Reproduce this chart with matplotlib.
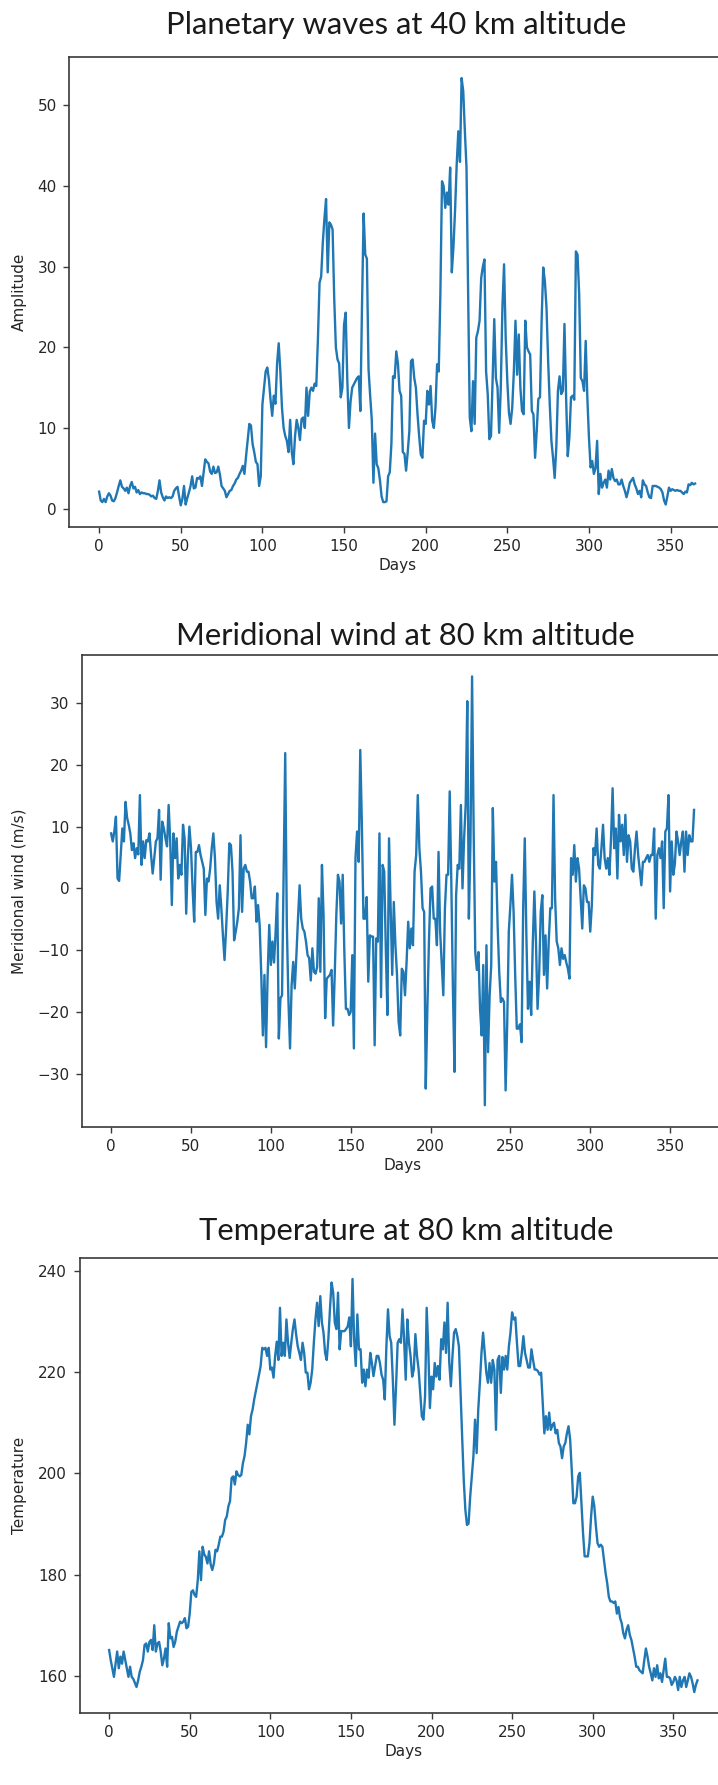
import matplotlib
matplotlib.use("Agg")
import matplotlib.pyplot as plt
import numpy as np

# Daily series, day 0 .. 365
days = np.arange(366)

amplitude_40km = [
    2.1, 1.0, 0.8, 1.2, 0.8, 1.5, 1.9, 1.6, 1.0, 0.9,
    1.3, 2.0, 2.8, 3.5, 2.7, 2.5, 2.2, 2.6, 1.9, 2.8,
    3.3, 2.5, 2.7, 2.0, 2.3, 1.8, 2.0, 1.9, 1.9, 1.8,
    1.8, 1.7, 1.5, 1.6, 1.3, 1.2, 2.2, 3.5, 2.0, 1.4,
    1.0, 1.5, 1.3, 1.4, 1.3, 1.5, 2.2, 2.5, 2.7, 1.5,
    0.4, 1.2, 2.8, 0.5, 1.3, 2.0, 2.8, 4.0, 2.5, 2.6,
    3.8, 3.7, 4.0, 2.8, 4.5, 6.1, 5.8, 5.6, 4.6, 4.3,
    5.2, 4.4, 4.5, 5.2, 4.2, 2.8, 2.5, 2.2, 1.4, 1.8,
    2.2, 2.3, 2.8, 3.1, 3.6, 3.8, 4.3, 4.7, 5.3, 4.3,
    6.5, 8.5, 10.5, 10.3, 8.0, 7.0, 5.8, 5.5, 2.8, 4.0,
    12.9, 15.0, 17.0, 17.5, 16.0, 13.5, 11.5, 14.0, 13.0, 18.0,
    20.5, 17.0, 12.5, 10.0, 9.0, 8.4, 7.0, 11.0, 7.0, 5.5,
    9.0, 11.0, 10.0, 8.5, 11.1, 11.3, 10.0, 15.0, 11.5, 14.5,
    15.0, 14.6, 15.5, 15.2, 21.0, 28.0, 28.8, 33.0, 36.0, 38.4,
    29.3, 35.5, 35.2, 34.6, 26.0, 20.0, 18.5, 18.0, 13.8, 15.0,
    22.8, 24.3, 16.0, 10.0, 13.3, 15.0, 15.4, 15.8, 16.2, 16.4,
    12.1, 25.0, 36.6, 31.5, 31.0, 17.3, 14.0, 11.0, 3.2, 9.3,
    5.5, 5.0, 3.5, 1.5, 0.8, 0.8, 0.9, 4.0, 4.5, 8.0,
    16.4, 16.2, 19.5, 18.0, 14.6, 14.0, 7.0, 6.8, 4.7, 7.0,
    9.6, 18.3, 18.5, 16.2, 15.0, 11.7, 9.0, 6.7, 6.3, 10.9,
    10.5, 14.6, 12.9, 15.2, 10.9, 10.0, 12.5, 17.9, 17.0, 26.6,
    40.6, 40.0, 37.3, 39.2, 37.7, 42.3, 29.3, 32.4, 37.0, 42.7,
    46.8, 43.0, 53.4, 51.8, 46.8, 42.3, 26.6, 11.3, 9.6, 15.8,
    10.5, 21.2, 22.0, 23.3, 28.6, 30.0, 30.9, 17.0, 14.2, 8.6,
    9.0, 16.0, 23.5, 16.2, 15.0, 9.4, 15.0, 25.0, 30.3, 21.2,
    15.8, 11.9, 10.5, 12.5, 17.0, 23.3, 16.6, 21.6, 15.0, 12.1,
    11.7, 23.3, 20.0, 19.5, 19.1, 12.1, 11.7, 6.3, 9.6, 13.6,
    13.8, 23.3, 29.9, 28.2, 24.9, 18.3, 12.9, 8.4, 6.3, 3.8,
    7.6, 14.6, 16.4, 14.2, 14.6, 22.9, 13.8, 6.5, 8.8, 13.8,
    14.0, 13.5, 31.9, 31.5, 26.6, 16.2, 15.8, 14.6, 20.8, 13.8,
    8.8, 5.1, 5.9, 4.3, 5.0, 8.4, 1.8, 4.3, 2.6, 3.2,
    3.6, 2.6, 4.7, 3.6, 4.9, 3.8, 3.4, 3.6, 3.0, 3.0,
    3.6, 2.8, 2.2, 1.4, 2.2, 3.2, 3.5, 3.8, 3.0, 2.5,
    1.8, 2.2, 1.4, 3.5, 3.0, 2.8, 2.0, 1.4, 1.3, 2.8,
    2.8, 2.8, 2.7, 2.6, 2.4, 2.0, 1.0, 0.5, 1.5, 2.6,
    2.2, 2.4, 2.3, 2.2, 2.3, 2.2, 2.2, 2.0, 1.8, 2.1,
    2.0, 3.0, 2.9, 3.2, 3.0, 3.1,
]

meridional_wind_80km = [
    8.9, 7.6, 9.2, 11.6, 1.6, 1.2, 5.4, 9.7, 7.6, 14.0,
    11.4, 10.3, 8.9, 6.2, 7.3, 4.9, 6.5, 5.5, 15.1, 3.8,
    7.6, 4.9, 7.8, 7.6, 8.9, 5.4, 2.4, 4.9, 7.6, 8.1,
    12.7, 1.4, 10.8, 9.7, 8.1, 6.8, 13.5, 7.6, -2.7, 8.9,
    4.9, 8.1, 1.6, 3.8, 2.2, 10.3, 8.1, -4.1, 4.9, 10.0,
    6.5, 0.0, -5.4, 5.9, 5.9, 7.0, 5.4, 4.3, 3.2, -4.3,
    1.6, 1.1, 3.2, 6.5, 8.9, 4.9, -2.2, -4.9, 0.5, -3.2,
    -7.6, -11.6, -6.5, -0.5, 7.3, 7.0, 2.7, -8.4, -7.0, -5.4,
    -3.2, 8.6, -3.8, 3.2, 3.8, 2.7, 2.7, 1.1, -1.6, -1.6,
    0.3, -5.4, -2.7, -6.0, -14.0, -23.8, -14.0, -25.7, -14.0, -5.9,
    -12.4, -8.6, -12.0, -7.0, -0.8, -24.3, -17.8, -17.3, 2.0, 21.9,
    -5.9, -18.0, -25.9, -15.7, -11.9, -16.2, -10.8, -4.9, 0.5, -4.9,
    -6.5, -7.0, -8.6, -10.8, -11.3, -14.9, -9.7, -13.5, -13.8, -12.7,
    -1.6, -13.5, 3.8, -4.3, -21.0, -14.6, -14.3, -14.0, -13.2, -22.2,
    -14.0, -4.3, 2.2, 1.1, -5.7, 2.2, -10.0, -19.5, -19.5, -20.5,
    -20.0, -10.8, -25.9, 4.9, 9.2, 4.3, 22.4, 10.3, -4.9, -4.9,
    -1.4, -15.1, -7.6, -7.8, -7.8, -25.4, -8.1, -8.6, 8.9, -17.6,
    3.8, 2.7, -10.0, -20.5, 8.1, -3.0, -14.0, -2.2, -9.2, -14.0,
    -21.6, -23.8, -13.0, -13.5, -17.3, -11.9, -5.4, -9.7, -6.5, -9.2,
    2.7, 5.4, 15.1, 6.5, 2.7, -3.2, -3.8, -32.4, -19.5, -8.6,
    0.0, 0.3, -4.9, -4.9, -9.2, 5.9, -7.0, -12.0, -17.3, -3.2,
    2.2, 2.2, 15.7, 1.1, -16.2, -29.7, -1.1, 3.8, 3.2, 13.5,
    0.0, 8.0, 13.5, 30.3, -4.9, 7.6, 34.3, 9.2, -10.3, -13.2,
    -10.3, -19.5, -23.8, -12.4, -35.1, -9.2, -26.5, -17.3, -12.4, 13.0,
    1.1, 4.3, -6.0, -13.5, -18.4, -17.8, -18.4, -32.7, -22.0, -7.0,
    -2.7, 2.2, -3.8, -14.0, -22.7, -22.7, -22.0, -24.9, -3.2, 8.1,
    -7.6, -19.5, -15.1, -20.5, -9.0, -0.5, -8.6, -19.5, -14.0, -3.8,
    -1.1, -14.0, -7.6, -16.2, -8.6, -3.2, -3.2, 15.1, -1.6, -8.6,
    -9.7, -12.4, -9.7, -11.4, -10.8, -12.0, -13.0, -14.6, 4.9, 2.2,
    7.0, 1.1, 4.9, 3.2, -1.6, -6.5, 0.5, 0.0, -2.2, -2.2,
    -7.0, -2.7, 6.5, 5.4, 9.7, 3.8, 3.2, 6.5, 10.3, 4.9,
    3.2, 4.9, 2.2, 8.0, 16.2, 6.5, 9.7, 1.6, 11.9, 7.6,
    10.3, 5.4, 11.9, 4.3, 8.6, 7.6, 3.2, 2.7, 6.5, 9.2,
    5.4, 3.0, 0.5, 4.3, 4.3, 4.9, 5.4, 4.3, 5.4, 5.4,
    9.7, -4.9, 5.4, 6.5, 4.9, 7.6, -3.2, 9.2, 9.7, 15.1,
    -0.5, 7.6, 2.2, 4.0, 9.2, 7.6, 5.4, 7.6, 9.2, 2.7,
    9.2, 5.4, 8.6, 7.6, 7.6, 12.7,
]

temperature_80km = [
    165.1, 163.1, 161.5, 159.8, 162.4, 164.8, 161.5, 163.8, 162.4, 164.8,
    163.1, 161.5, 159.8, 161.8, 159.8, 159.4, 158.6, 157.8, 159.1, 160.8,
    161.8, 163.1, 166.1, 166.4, 164.8, 166.7, 167.1, 165.1, 170.0, 164.8,
    166.4, 166.7, 164.8, 162.1, 163.4, 165.4, 161.8, 170.4, 167.4, 167.7,
    165.7, 166.7, 168.7, 169.7, 170.7, 170.4, 170.7, 171.4, 169.4, 169.7,
    172.3, 176.6, 176.9, 176.0, 175.6, 178.9, 184.6, 178.9, 185.5, 184.0,
    183.5, 182.2, 184.6, 182.0, 180.9, 182.2, 184.9, 184.6, 185.9, 187.5,
    187.5, 188.5, 190.8, 191.5, 193.5, 194.5, 199.1, 199.4, 197.8, 200.4,
    199.7, 199.4, 199.7, 202.0, 203.4, 206.0, 209.6, 207.7, 211.3, 212.6,
    214.6, 216.2, 217.9, 219.5, 221.2, 224.8, 224.5, 224.8, 223.2, 224.8,
    220.5, 220.9, 218.9, 223.2, 226.0, 222.4, 232.7, 223.2, 225.8, 223.2,
    230.4, 225.8, 222.8, 225.8, 228.5, 230.4, 227.5, 225.1, 223.8, 222.4,
    225.8, 223.8, 219.9, 219.9, 216.6, 217.9, 220.5, 225.8, 230.4, 233.7,
    229.1, 235.0, 229.8, 227.8, 223.8, 222.4, 226.5, 232.4, 237.7, 235.7,
    229.8, 228.5, 235.7, 224.5, 228.1, 228.1, 228.1, 228.5, 229.0, 230.8,
    225.1, 238.4, 226.5, 221.2, 231.4, 224.5, 224.5, 217.9, 220.5, 217.2,
    220.5, 218.9, 223.8, 221.8, 219.2, 221.2, 223.2, 223.2, 221.8, 219.5,
    218.5, 214.6, 225.0, 232.4, 227.1, 225.8, 218.5, 209.6, 217.2, 225.8,
    226.5, 225.8, 232.4, 226.5, 218.5, 230.4, 225.8, 223.2, 219.1, 220.5,
    227.5, 223.2, 220.5, 215.9, 211.3, 210.6, 215.2, 232.7, 224.5, 212.9,
    219.1, 216.6, 221.8, 219.1, 221.2, 218.5, 226.5, 224.5, 229.8, 223.8,
    233.7, 222.0, 217.2, 223.2, 227.8, 228.5, 227.1, 225.1, 215.9, 207.3,
    198.7, 192.8, 189.8, 190.1, 195.4, 199.4, 203.4, 210.6, 204.0, 212.6,
    217.9, 223.8, 227.8, 223.8, 219.9, 217.9, 221.8, 217.9, 222.4, 220.5,
    208.6, 222.4, 223.2, 215.9, 223.0, 220.5, 223.2, 220.5, 225.1, 227.8,
    231.8, 230.4, 230.8, 225.8, 221.2, 221.2, 223.8, 227.1, 223.8, 222.4,
    220.9, 220.9, 224.5, 222.4, 220.5, 220.5, 220.2, 219.5, 219.9, 213.9,
    207.9, 211.3, 208.6, 212.0, 208.6, 209.5, 210.0, 207.9, 208.6, 206.0,
    205.3, 203.0, 205.3, 206.0, 207.9, 209.3, 206.7, 200.7, 194.1, 194.1,
    195.4, 199.4, 200.1, 194.1, 188.2, 183.6, 183.6, 183.6, 186.2, 191.5,
    195.4, 193.5, 189.5, 186.2, 185.5, 185.9, 185.5, 182.9, 180.3, 178.3,
    175.6, 174.7, 174.7, 174.4, 174.7, 172.3, 173.6, 171.4, 170.4, 168.4,
    167.4, 169.1, 170.0, 168.1, 167.1, 165.5, 163.8, 161.8, 161.8, 161.1,
    160.8, 160.5, 163.1, 165.4, 163.8, 161.8, 160.5, 159.1, 161.5, 159.8,
    162.1, 159.5, 160.5, 158.8, 161.1, 163.4, 159.8, 159.8, 159.5, 158.2,
    158.8, 159.8, 159.1, 157.2, 159.8, 157.8, 159.1, 159.8, 157.8, 159.1,
    160.5, 159.8, 158.5, 156.8, 158.2, 159.1,
]

titles = [
    "Planetary waves at 40 km altitude",
    "Meridional wind at 80 km altitude",
    "Temperature at 80 km altitude",
]
ylabels = ["Amplitude", "Meridional wind (m/s)", "Temperature"]
xlabel = "Days"
xticks = [0, 50, 100, 150, 200, 250, 300, 350]
yticks = [
    [0, 10, 20, 30, 40, 50],
    [-30, -20, -10, 0, 10, 20, 30],
    [160, 180, 200, 220, 240],
]
series = [amplitude_40km, meridional_wind_80km, temperature_80km]

W, H = 718, 1785
fig = plt.figure(figsize=(W / 100, H / 100), dpi=100)
fig.patch.set_facecolor("white")

# panel boxes in pixels: left, top, right, bottom; title centre x and baseline y
panels = [
    dict(box=(69.3, 56.7, 724.9, 526.7), title_xy=(396, 34)),
    dict(box=(82.0, 655.0, 723.2, 1126.7), title_xy=(405, 645)),
    dict(box=(79.7, 1258.3, 726.9, 1712.7), title_xy=(406, 1240)),
]

line_color = "#1f77b4"
text_color = "#262626"
spine_color = "#3a3a3a"

for p, values, title, ylab, yt in zip(panels, series, titles, ylabels, yticks):
    left, top, right, bottom = p["box"]
    ax = fig.add_axes([left / W, 1 - bottom / H, (right - left) / W, (bottom - top) / H])
    ax.plot(days, values, color=line_color, lw=1.7)
    ax.set_xticks(xticks)
    ax.set_yticks(yt)
    ax.tick_params(labelsize=11, length=4.5, width=1.0, pad=4.5,
                   colors=spine_color, labelcolor=text_color)
    for s in ax.spines.values():
        s.set_color(spine_color)
        s.set_linewidth(1.2)
    ax.set_xlabel(xlabel, fontsize=11, color=text_color, labelpad=3)
    ax.set_ylabel(ylab, fontsize=11, color=text_color)
    ax.yaxis.set_label_coords((27 - left) / (right - left), 0.5)
    tx, ty = p["title_xy"]
    fig.text(tx / W, 1 - ty / H, title, ha="center", va="baseline",
             fontsize=22.3, family="Lato", color="#1a1a1a")

fig.savefig("out.png", dpi=100, facecolor="white")
